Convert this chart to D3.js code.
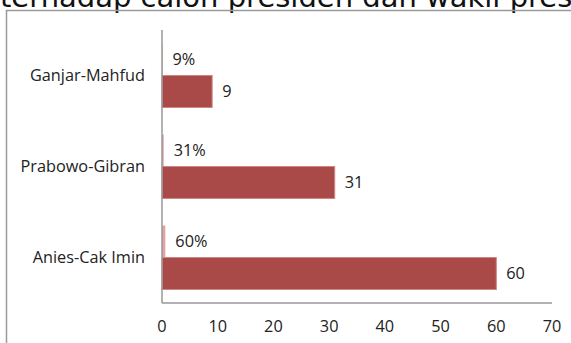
<!DOCTYPE html>
<html>
<head>
<meta charset="utf-8">
<script src="https://cdn.jsdelivr.net/npm/d3@7"></script>
<style>
  html, body { margin: 0; padding: 0; background: #fff; overflow: hidden; }
  svg { display: block; }
</style>
</head>
<body>
<svg id="chart" width="571" height="343"></svg>
<script>
// Pasangan calon, dari atas ke bawah
const categories = ["Ganjar-Mahfud", "Prabowo-Gibran", "Anies-Cak Imin"];
// Persentase dukungan (deret tipis, ditampilkan sebagai persen)
const shareValues = [0.09, 0.31, 0.60];
// Jumlah dukungan (deret utama)
const countValues = [9, 31, 60];
const xTicks = [0, 10, 20, 30, 40, 50, 60, 70];
const titleText = "terhadap calon presiden dan wakil presiden";

const svg = d3.select("#chart");
const font = "'Open Sans', Lato, sans-serif";
const fs = 16.3;

// Judul (terpotong di tepi atas)
svg.append("text")
  .attr("x", 0)
  .attr("y", 7)
  .attr("font-family", "'DejaVu Sans', Verdana, sans-serif")
  .attr("font-size", 29)
  .attr("fill", "#111")
  .text(titleText);

// Bingkai area grafik
svg.append("path")
  .attr("d", "M6.5,343 V10.5 H571")
  .attr("fill", "none")
  .attr("stroke", "#9a9a9a")
  .attr("stroke-width", 1.5);

const x = d3.scaleLinear().domain([0, 70]).range([162, 552]);
const y = d3.scaleBand().domain(categories).range([30, 303])
  .paddingInner(0.297).paddingOuter(0.1485);
const sub = d3.scaleBand().domain(["share", "count"]).range([0, y.bandwidth()]);

const rows = categories.map((c, i) => ({ c, share: shareValues[i], count: countValues[i] }));

// Batang persentase (sangat tipis karena skala 0–70)
svg.selectAll("rect.share").data(rows).join("rect")
  .attr("class", "share")
  .attr("x", x(0))
  .attr("y", d => y(d.c) + sub("share"))
  .attr("width", d => Math.max(0, x(d.share) - x(0)))
  .attr("height", sub.bandwidth())
  .attr("fill", "#e3a3a2");

// Batang jumlah
svg.selectAll("rect.count").data(rows).join("rect")
  .attr("class", "count")
  .attr("x", x(0))
  .attr("y", d => y(d.c) + sub("count"))
  .attr("width", d => x(d.count) - x(0))
  .attr("height", sub.bandwidth())
  .attr("fill", "#a94a48")
  .attr("stroke", "#cf8584")
  .attr("stroke-width", 1);

// Sumbu
const axisColor = "#999";
svg.append("line")
  .attr("x1", x(0)).attr("x2", x(0))
  .attr("y1", 30).attr("y2", 303)
  .attr("stroke", axisColor).attr("stroke-width", 1.5);
svg.append("line")
  .attr("x1", x(0)).attr("x2", x(70))
  .attr("y1", 303).attr("y2", 303)
  .attr("stroke", axisColor).attr("stroke-width", 1.5);

// Label tick sumbu x
svg.selectAll("text.xt").data(xTicks).join("text")
  .attr("class", "xt")
  .attr("x", d => x(d))
  .attr("y", 332)
  .attr("text-anchor", "middle")
  .attr("font-family", font)
  .attr("font-size", fs)
  .attr("fill", "#222")
  .text(d => d);

// Label kategori
svg.selectAll("text.cat").data(rows).join("text")
  .attr("class", "cat")
  .attr("x", 145)
  .attr("y", d => y(d.c) + y.bandwidth() / 2 + 5.5)
  .attr("text-anchor", "end")
  .attr("font-family", font)
  .attr("font-size", fs)
  .attr("fill", "#222")
  .text(d => d.c);

// Label nilai persentase
svg.selectAll("text.sl").data(rows).join("text")
  .attr("class", "sl")
  .attr("x", d => x(d.share) + 10)
  .attr("y", d => y(d.c) + sub("share") + sub.bandwidth() / 2 + 5.5)
  .attr("font-family", font)
  .attr("font-size", fs)
  .attr("fill", "#222")
  .text(d => d3.format(".0%")(d.share));

// Label nilai jumlah
svg.selectAll("text.cl").data(rows).join("text")
  .attr("class", "cl")
  .attr("x", d => x(d.count) + 10)
  .attr("y", d => y(d.c) + sub("count") + sub.bandwidth() / 2 + 5.5)
  .attr("font-family", font)
  .attr("font-size", fs)
  .attr("fill", "#222")
  .text(d => d.count);
</script>
</body>
</html>
